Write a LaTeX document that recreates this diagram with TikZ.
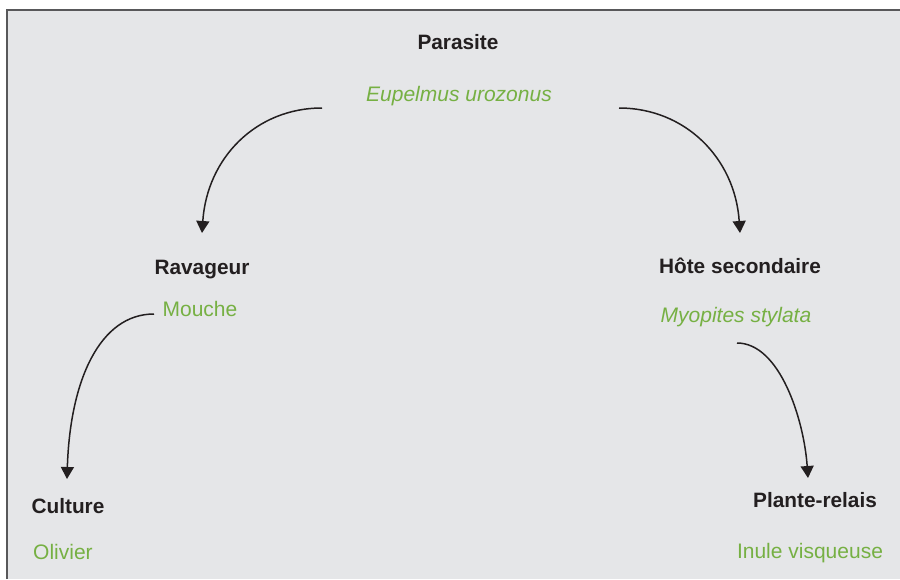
\documentclass[tikz,border=0pt]{standalone}
\usepackage{fontspec}
\setmainfont{Liberation Sans}
\usetikzlibrary{arrows.meta}
\definecolor{bg}{HTML}{E5E6E8}
\definecolor{frame}{HTML}{58585A}
\definecolor{leaf}{HTML}{76B043}
\definecolor{ink}{HTML}{231F20}
\tikzset{
  head/.style={font=\fontsize{20.8}{24}\selectfont\bfseries, text=ink, anchor=base, inner sep=0pt},
  species/.style={font=\fontsize{21}{24}\selectfont\itshape, text=leaf, anchor=base, inner sep=0pt},
  common/.style={font=\fontsize{21}{24}\selectfont, text=leaf, anchor=base, inner sep=0pt},
  link/.style={draw=ink, line width=1.5pt, -{Triangle[width=13pt,length=12pt]}}
}
\begin{document}
\begin{tikzpicture}[x=1pt,y=-1pt]
\useasboundingbox (0,0) rectangle (900,579);
\fill[white] (0,0) rectangle (900,579);
\fill[bg] (7,10) rectangle (900,579);
\draw[frame, line width=2.2pt] (7,579) -- (7,10) -- (900,10);

\node[head] (parasite) at (458,49) {Parasite};
\node[species] (eupelmus) at (459,101) {Eupelmus urozonus};
\node[head] (ravageur) at (202,274) {Ravageur};
\node[common] (mouche) at (200,316) {Mouche};
\node[head] (hote) at (740,273) {Hôte secondaire};
\node[species] (myopites) at (736,322) {Myopites stylata};
\node[head] (culture) at (68,513) {Culture};
\node[common, anchor=base west] (olivier) at (33,559) {Olivier};
\node[head] (plante) at (815,507) {Plante-relais};
\node[common] (inule) at (810,558) {Inule visqueuse};

\coordinate (s1) at (322,108);
\coordinate (e1) at (202,233);
\coordinate (s2) at (619,108);
\coordinate (e2) at (740,233);
\coordinate (s3) at (154,314);
\coordinate (e3) at (67,479);
\coordinate (s4) at (737,343);
\coordinate (e4) at (808,478);

\draw[link] (s1) .. controls (256,108) and (207,158) .. (e1);
\draw[link] (s2) .. controls (685,108) and (735,158) .. (e2);
\draw[link] (s3) .. controls (100,314) and (70,380) .. (e3);
\draw[link] (s4) .. controls (780,343) and (804,420) .. (e4);
\end{tikzpicture}
\end{document}
